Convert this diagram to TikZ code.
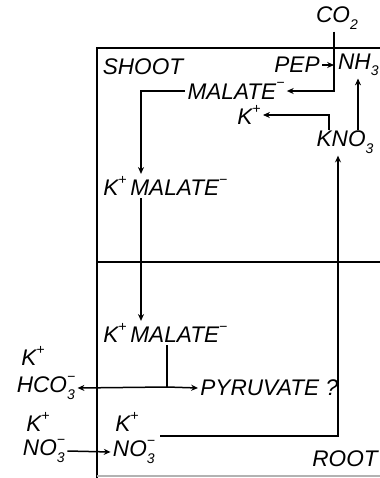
\documentclass[tikz,border=0pt]{standalone}
\usepackage{fontspec}
\setmainfont{Liberation Sans}
\usetikzlibrary{arrows.meta}
\newcommand\sbsp[2]{\rlap{\raisebox{-0.55ex}{\scriptsize#1}}\raisebox{0.95ex}{\scriptsize#2}}
\newcommand\supx[1]{\raisebox{0.95ex}{\scriptsize#1}}
\newcommand\subx[1]{\raisebox{-0.55ex}{\scriptsize#1}}
\begin{document}
\begin{tikzpicture}[x=0.5pt,y=-0.5pt,
  lbl/.style={inner sep=1pt,font=\fontsize{11.3}{13}\selectfont\itshape},
  conn/.style={line width=0.75pt},
  arr/.style={conn,-{Stealth[length=3.4pt,width=3pt]}},
  frame/.style={line width=0.9pt}]
\fill[white] (0,0) rectangle (380,478);
\useasboundingbox (0,0) rectangle (380,478);
% frame
\draw[frame] (380,48) -- (97,48) -- (97,478);
\draw[frame] (97,262) -- (380,262);
\draw[line width=0.6pt,gray!60] (97,476) -- (380,476);
% nodes
\node[lbl] (co2) at (337,18) {CO\subx{2}};
\node[lbl] (pep) at (297,65) {PEP};
\node[lbl,anchor=east] (nh3) at (381,65) {NH\subx{3}};
\node[lbl] (shoot) at (143,67) {SHOOT};
\node[lbl] (malate) at (236,91) {MALATE\supx{−}};
\node[lbl] (kp1) at (249,115) {K\supx{+}};
\node[lbl] (kno3) at (345,142) {KNO\subx{3}};
\node[lbl,anchor=west] (kmal1) at (101,186) {K\supx{+}\,MALATE\supx{−}};
\node[lbl,anchor=west] (kmal2) at (101,333) {K\supx{+}\,MALATE\supx{−}};
\node[lbl,anchor=west] (pyr) at (198,388) {PYRUVATE ?};
\node[lbl] (k3) at (33,356) {K\supx{+}};
\node[lbl] (hco3) at (46,388) {HCO\sbsp{3}{−}};
\node[lbl] (k4) at (38,422) {K\supx{+}};
\node[lbl] (no3a) at (44,451) {NO\sbsp{3}{−}};
\node[lbl] (k5) at (127,422) {K\supx{+}};
\node[lbl] (no3b) at (134,452) {NO\sbsp{3}{−}};
\node[lbl] (root) at (345,459) {ROOT};
% helper coordinates
\coordinate (cx) at (334,0);
\coordinate (vx) at (141,0);
\coordinate (jx) at (167,387);
\coordinate (kx) at (338,0);
\coordinate (kkx) at (329,130);
\coordinate (nhx) at (358,130);
\coordinate (r1) at (160,436);
% connectors
\draw[arr] (co2.south -| cx) |- (malate.east);
\draw[arr] (pep.east) -- (pep.east -| cx);
\draw[arr] (malate.west) -| (kmal1.north -| vx);
\draw[arr] (kmal1.south -| vx) -- (kmal2.north -| vx);
\draw[conn] (kmal2.south -| jx) -- (jx);
\draw[arr] (jx) -- (pyr.west);
\draw[arr] (jx) -- (hco3.east);
\draw[arr] (no3a.east) -- (no3b.west);
\draw[arr] (r1) -| (kno3.south -| kx);
\draw[arr] (kkx) |- (kp1.east);
\draw[arr] (nhx) -- (nh3.south -| nhx);
\end{tikzpicture}
\end{document}
